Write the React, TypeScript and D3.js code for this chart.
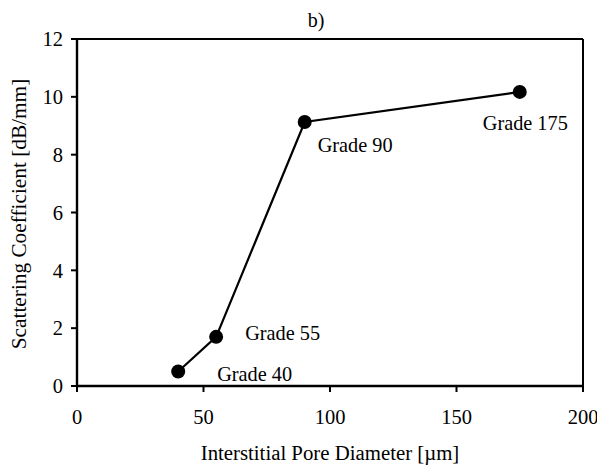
import React from "react";
import * as d3 from "d3";

const grades = ["Grade 40", "Grade 55", "Grade 90", "Grade 175"];
const poreDiameter = [40, 55, 90, 175];
const scattering = [0.5, 1.7, 9.13, 10.17];
const xTicks = [0, 50, 100, 150, 200];
const yTicks = [0, 2, 4, 6, 8, 10, 12];
const labelOffsets: [number, number][] = [
  [39, 2],
  [29, -4],
  [13, 23],
  [-37, 31],
];

const W = 597;
const H = 466;
const M = { left: 77, right: 14, top: 39, bottom: 80 };
const FONT = "'Liberation Serif', 'Times New Roman', serif";

export default function App() {
  const x = d3.scaleLinear().domain([0, 200]).range([M.left, W - M.right]);
  const y = d3.scaleLinear().domain([0, 12]).range([H - M.bottom, M.top]);
  const pts = poreDiameter.map((d, i) => [x(d), y(scattering[i])] as [number, number]);
  const line = d3.line()(pts) || "";
  const x0 = x(0), x1 = x(200), y0 = y(0), y1 = y(12);

  return (
    <svg width={W} height={H} style={{ position: "absolute", left: 0, top: 0, background: "#fff" }} fontFamily={FONT}>
      <rect x={0} y={0} width={W} height={H} fill="#fff" />
      <line x1={x0} y1={y1} x2={x1} y2={y1} stroke="#000" strokeWidth={2} />
      <line x1={x1} y1={y1} x2={x1} y2={y0} stroke="#000" strokeWidth={2} />
      <line x1={x0} y1={y1} x2={x0} y2={y0} stroke="#000" strokeWidth={2.4} />
      <line x1={x0} y1={y0} x2={x1} y2={y0} stroke="#000" strokeWidth={2.4} />
      {yTicks.map((t) => (
        <g key={"y" + t}>
          <line x1={x0 - 6} x2={x0} y1={y(t)} y2={y(t)} stroke="#000" strokeWidth={2} />
          <text x={x0 - 14} y={y(t)} dy="0.35em" textAnchor="end" fontSize={20.5}>{t}</text>
        </g>
      ))}
      {xTicks.map((t) => (
        <g key={"x" + t}>
          <line x1={x(t)} x2={x(t)} y1={y0} y2={y0 + 6} stroke="#000" strokeWidth={2} />
          <text x={x(t)} y={y0 + 38} textAnchor="middle" fontSize={20.5}>{t}</text>
        </g>
      ))}
      <path d={line} fill="none" stroke="#000" strokeWidth={2.2} />
      {pts.map((p, i) => (
        <circle key={"c" + i} cx={p[0]} cy={p[1]} r={7} fill="#000" />
      ))}
      {pts.map((p, i) => (
        <text key={"l" + i} x={p[0] + labelOffsets[i][0]} y={p[1] + labelOffsets[i][1]} dy="0.35em" fontSize={20.3}>
          {grades[i]}
        </text>
      ))}
      <text x={316} y={27} textAnchor="middle" fontSize={20}>b)</text>
      <text x={330} y={460} textAnchor="middle" fontSize={20.8}>Interstitial Pore Diameter [µm]</text>
      <text transform={`translate(26,214) rotate(-90)`} textAnchor="middle" fontSize={21.3}>
        Scattering Coefficient [dB/mm]
      </text>
    </svg>
  );
}
